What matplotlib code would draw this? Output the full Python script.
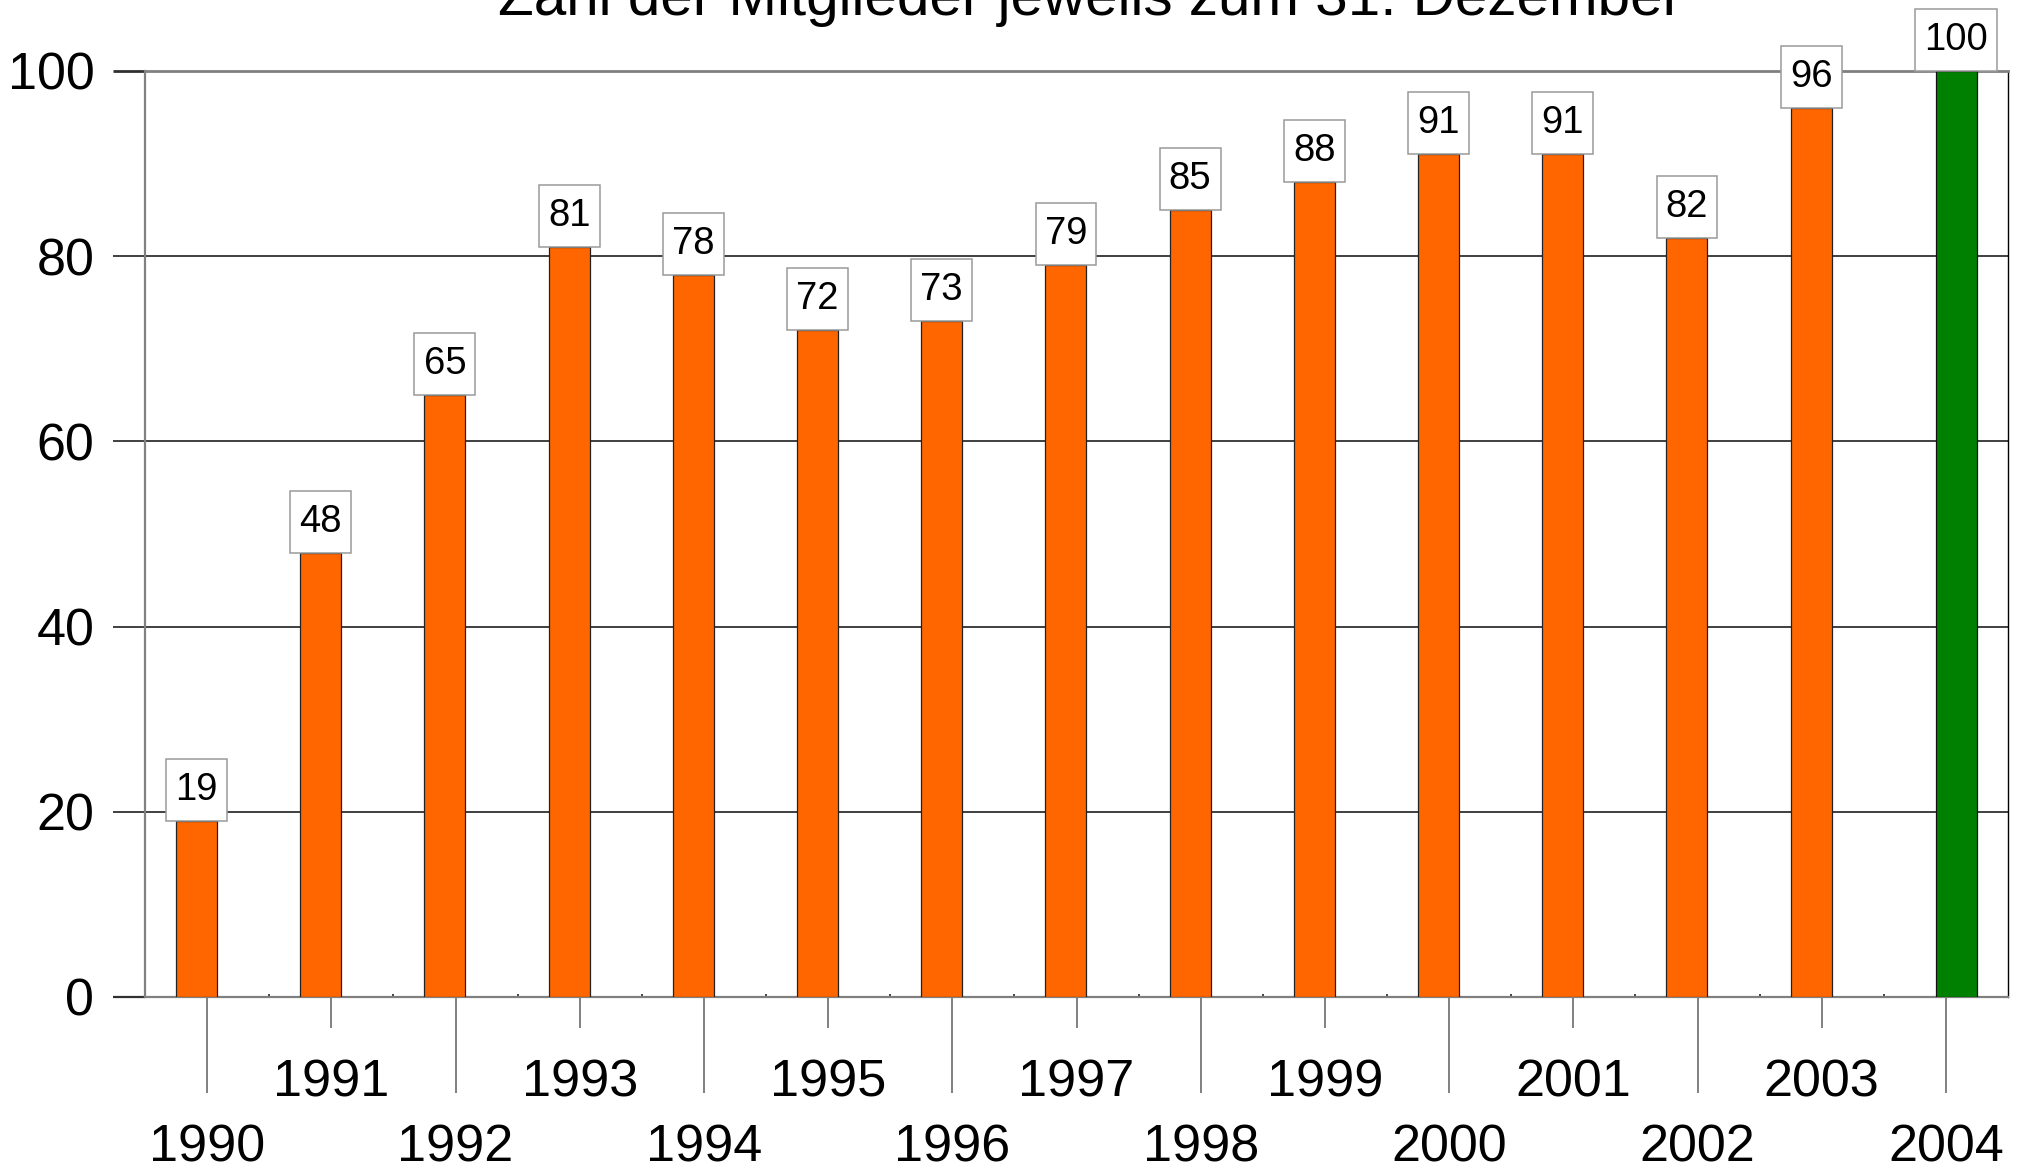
import matplotlib
matplotlib.use("Agg")
import matplotlib.pyplot as plt
from matplotlib.path import Path
import numpy as np

plt.rcParams['font.family'] = ['Liberation Sans', 'DejaVu Sans']

# ---- data ----
title = "Zahl der Mitglieder jeweils zum 31. Dezember"
years = ["1990", "1991", "1992", "1993", "1994", "1995", "1996", "1997",
         "1998", "1999", "2000", "2001", "2002", "2003", "2004"]
members_past = [19, 48, 65, 81, 78, 72, 73, 79, 85, 88, 91, 91, 82, 96]   # orange series
members_current = [100]                                                  # green series (2004)
yticks = [0, 20, 40, 60, 80, 100]

# ---- style ----
ORANGE = "#FF6600"
GREEN = "#008000"
GRAY = "#808080"
DARK = "#303030"
BAR_W = 0.33
OFFSET = 0.085

fig = plt.figure(figsize=(20.26, 11.65), dpi=100)
ax = fig.add_axes([145/2026, 1-997/1165, (2008-145)/2026, (997-71)/1165])

n = len(years)
idx = np.arange(n)
x_past = idx[:len(members_past)] - OFFSET
x_cur = idx[len(members_past):] + OFFSET

bars1 = ax.bar(x_past, members_past, width=BAR_W, color=ORANGE, edgecolor="#222222", linewidth=0.9, zorder=3)
bars2 = ax.bar(x_cur, members_current, width=BAR_W, color=GREEN, edgecolor="#111111", linewidth=0.9, zorder=3)

ax.set_xlim(-0.5, n - 0.5)
ax.set_ylim(0, 100)

# gridlines
for v in yticks[1:-1]:
    ax.axhline(v, color=DARK, lw=1.3, zorder=1)

# spines
ax.spines['left'].set_color(GRAY)
ax.spines['left'].set_linewidth(1.6)
ax.spines['bottom'].set_color(GRAY)
ax.spines['bottom'].set_linewidth(1.6)
ax.spines['top'].set_color(GRAY)
ax.spines['top'].set_linewidth(2.0)
ax.spines['right'].set_color("#000000")
ax.spines['right'].set_linewidth(1.0)
for s in ax.spines.values():
    s.set_zorder(2)

# y ticks
ax.set_yticks(yticks)
ax.set_yticklabels([str(v) for v in yticks])
ax.tick_params(axis='y', which='major', length=23, width=1.3, color=DARK,
               pad=13.5, labelsize=37.5)
yt = ax.yaxis.get_major_ticks()
yt[0].tick1line.set_color(GRAY)
yt[0].tick1line.set_markeredgewidth(1.6)
yt[-1].tick1line.set_color(GRAY)
yt[-1].tick1line.set_markeredgewidth(2.0)

# x ticks: even years long, odd years short
even = idx[::2]
odd = idx[1::2]
ax.set_xticks(even)
ax.set_xticklabels([years[i] for i in even])
ax.set_xticks(odd, minor=True)
ax.set_xticklabels([years[i] for i in odd], minor=True)
ax.tick_params(axis='x', which='major', length=69, width=1.4, color=GRAY, pad=22, labelsize=37.5)
ax.tick_params(axis='x', which='minor', length=22.3, width=1.4, color=GRAY, pad=22, labelsize=37.5)

# small inward ticks at category boundaries
sec = ax.secondary_xaxis('bottom')
sec.set_xticks(idx[:-1] + 0.5)
sec.set_xticklabels([])
sec.tick_params(axis='x', direction='in', length=2.5, width=1.2, color="#222222")
sec.spines['bottom'].set_visible(False)

# value labels in boxes
PADX, PADY = 0.24, 0.34
def label_box(x0, y0, width, height, mutation_size):
    px = PADX * mutation_size
    py = PADY * mutation_size
    x0, y0 = x0 - px, y0 - py
    x1, y1 = x0 + width + 2 * px, y0 + height + 2 * py
    return Path([(x0, y0), (x1, y0), (x1, y1), (x0, y1), (x0, y0)], closed=True)

LABEL_FS = 27.5
for xs, vals in ((x_past, members_past), (x_cur, members_current)):
    for x, v in zip(xs, vals):
        ax.annotate(str(v), xy=(x, v), xytext=(0, PADY * LABEL_FS), textcoords='offset points',
                    ha='center', va='bottom', fontsize=LABEL_FS, color='black', zorder=5,
                    annotation_clip=False,
                    bbox=dict(boxstyle=label_box, fc='white', ec='#9a9a9a', lw=1.1))

fig.text(1090.5/2026, 1 - 15/1165, title, ha='center', va='baseline', fontsize=42, color='black')

fig.savefig("out.png", dpi=100, facecolor='white')
